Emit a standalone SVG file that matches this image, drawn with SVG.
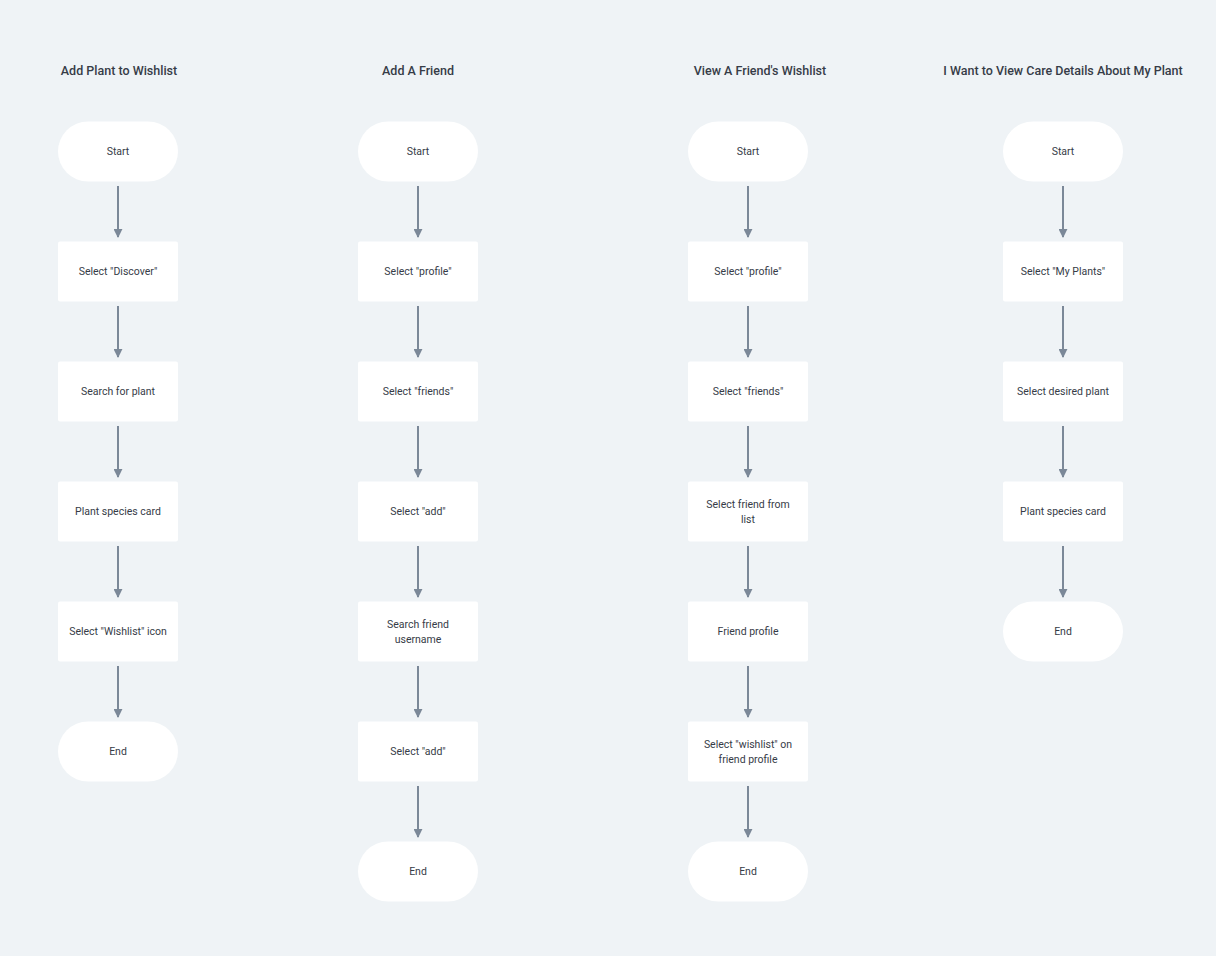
<svg xmlns="http://www.w3.org/2000/svg" width="1216" height="956" viewBox="0 0 1216 956">
<style>
.bg{fill:#eff3f6}
.pill{fill:#ffffff}
.box{fill:#ffffff}
.t{font-family:Roboto,"Liberation Sans",Arial,sans-serif;font-size:10.5px;fill:#363c47;text-anchor:middle;dominant-baseline:central}
.h{font-family:Roboto,"Liberation Sans",Arial,sans-serif;font-size:12.5px;font-weight:500;fill:#363c47;text-anchor:middle}
.c{stroke:#7b8898;stroke-width:2;fill:none;marker-end:url(#ah)}
</style>
<defs>
<marker id="ah" viewBox="0 0 10 10" refX="9" refY="5" markerWidth="4.5" markerHeight="4.5" orient="auto" markerUnits="strokeWidth">
<path d="M0,0 L10,5 L0,10 Z" fill="#7b8898"/>
</marker>
</defs>
<rect class="bg" x="0" y="0" width="1216" height="956"/>
<g id="titles">
<text class="h" x="119" y="75">Add Plant to Wishlist</text>
<text class="h" x="418" y="75">Add A Friend</text>
<text class="h" x="760" y="75">View A Friend's Wishlist</text>
<text class="h" x="1063" y="75">I Want to View Care Details About My Plant</text>
</g>
<g id="connectors">
<path class="c" d="M118,186 V237"/><path class="c" d="M118,306 V357"/><path class="c" d="M118,426 V477"/><path class="c" d="M118,546 V597"/><path class="c" d="M118,666 V717"/>
<path class="c" d="M418,186 V237"/><path class="c" d="M418,306 V357"/><path class="c" d="M418,426 V477"/><path class="c" d="M418,546 V597"/><path class="c" d="M418,666 V717"/><path class="c" d="M418,786 V837"/>
<path class="c" d="M748,186 V237"/><path class="c" d="M748,306 V357"/><path class="c" d="M748,426 V477"/><path class="c" d="M748,546 V597"/><path class="c" d="M748,666 V717"/><path class="c" d="M748,786 V837"/>
<path class="c" d="M1063,186 V237"/><path class="c" d="M1063,306 V357"/><path class="c" d="M1063,426 V477"/><path class="c" d="M1063,546 V597"/>
</g>
<g id="c1-start"><rect class="pill" x="58" y="121.5" width="120" height="60" rx="30"/><text class="t" x="118" y="151.5">Start</text></g>
<g id="c1-discover"><rect class="box" x="58" y="241.5" width="120" height="60" rx="2"/><text class="t" x="118" y="271.5">Select "Discover"</text></g>
<g id="c1-search"><rect class="box" x="58" y="361.5" width="120" height="60" rx="2"/><text class="t" x="118" y="391.5">Search for plant</text></g>
<g id="c1-card"><rect class="box" x="58" y="481.5" width="120" height="60" rx="2"/><text class="t" x="118" y="511.5">Plant species card</text></g>
<g id="c1-wishlist"><rect class="box" x="58" y="601.5" width="120" height="60" rx="2"/><text class="t" x="118" y="631.5">Select "Wishlist" icon</text></g>
<g id="c1-end"><rect class="pill" x="58" y="721.5" width="120" height="60" rx="30"/><text class="t" x="118" y="751.5">End</text></g>

<g id="c2-start"><rect class="pill" x="358" y="121.5" width="120" height="60" rx="30"/><text class="t" x="418" y="151.5">Start</text></g>
<g id="c2-profile"><rect class="box" x="358" y="241.5" width="120" height="60" rx="2"/><text class="t" x="418" y="271.5">Select "profile"</text></g>
<g id="c2-friends"><rect class="box" x="358" y="361.5" width="120" height="60" rx="2"/><text class="t" x="418" y="391.5">Select "friends"</text></g>
<g id="c2-add1"><rect class="box" x="358" y="481.5" width="120" height="60" rx="2"/><text class="t" x="418" y="511.5">Select "add"</text></g>
<g id="c2-search"><rect class="box" x="358" y="601.5" width="120" height="60" rx="2"/><text class="t" x="418" y="624">Search friend</text><text class="t" x="418" y="639">username</text></g>
<g id="c2-add2"><rect class="box" x="358" y="721.5" width="120" height="60" rx="2"/><text class="t" x="418" y="751.5">Select "add"</text></g>
<g id="c2-end"><rect class="pill" x="358" y="841.5" width="120" height="60" rx="30"/><text class="t" x="418" y="871.5">End</text></g>

<g id="c3-start"><rect class="pill" x="688" y="121.5" width="120" height="60" rx="30"/><text class="t" x="748" y="151.5">Start</text></g>
<g id="c3-profile"><rect class="box" x="688" y="241.5" width="120" height="60" rx="2"/><text class="t" x="748" y="271.5">Select "profile"</text></g>
<g id="c3-friends"><rect class="box" x="688" y="361.5" width="120" height="60" rx="2"/><text class="t" x="748" y="391.5">Select "friends"</text></g>
<g id="c3-friend"><rect class="box" x="688" y="481.5" width="120" height="60" rx="2"/><text class="t" x="748" y="504">Select friend from</text><text class="t" x="748" y="519">list</text></g>
<g id="c3-fprofile"><rect class="box" x="688" y="601.5" width="120" height="60" rx="2"/><text class="t" x="748" y="631.5">Friend profile</text></g>
<g id="c3-wishlist"><rect class="box" x="688" y="721.5" width="120" height="60" rx="2"/><text class="t" x="748" y="744">Select "wishlist" on</text><text class="t" x="748" y="759">friend profile</text></g>
<g id="c3-end"><rect class="pill" x="688" y="841.5" width="120" height="60" rx="30"/><text class="t" x="748" y="871.5">End</text></g>

<g id="c4-start"><rect class="pill" x="1003" y="121.5" width="120" height="60" rx="30"/><text class="t" x="1063" y="151.5">Start</text></g>
<g id="c4-myplants"><rect class="box" x="1003" y="241.5" width="120" height="60" rx="2"/><text class="t" x="1063" y="271.5">Select "My Plants"</text></g>
<g id="c4-desired"><rect class="box" x="1003" y="361.5" width="120" height="60" rx="2"/><text class="t" x="1063" y="391.5">Select desired plant</text></g>
<g id="c4-card"><rect class="box" x="1003" y="481.5" width="120" height="60" rx="2"/><text class="t" x="1063" y="511.5">Plant species card</text></g>
<g id="c4-end"><rect class="pill" x="1003" y="601.5" width="120" height="60" rx="30"/><text class="t" x="1063" y="631.5">End</text></g>
</svg>
